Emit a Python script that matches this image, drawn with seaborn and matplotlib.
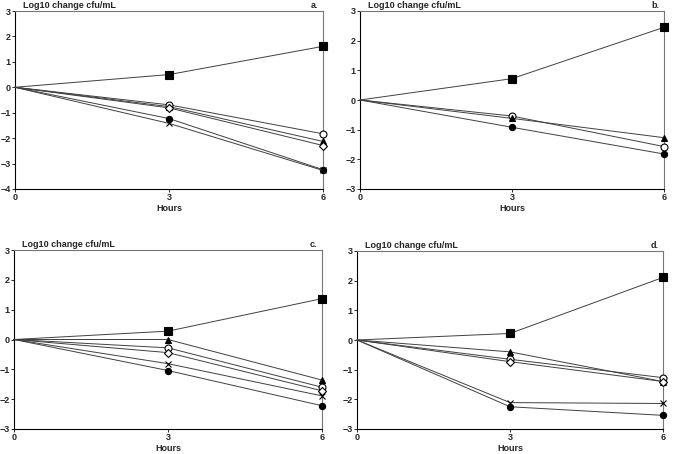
import numpy as np
import pandas as pd
import seaborn as sns
import matplotlib
matplotlib.use('Agg')
import matplotlib.pyplot as plt

hours = [0, 3, 6]

# log10 change in cfu/mL per panel, one list per marker series
a_square = [0, 0.50, 1.61]
a_open_circle = [0, -0.69, -1.83]
a_triangle = [0, -0.76, -2.13]
a_open_diamond = [0, -0.81, -2.29]
a_filled_circle = [0, -1.23, -3.24]
a_cross = [0, -1.42, -3.27]

b_square = [0, 0.72, 2.45]
b_open_circle = [0, -0.54, -1.57]
b_triangle = [0, -0.62, -1.27]
b_filled_circle = [0, -0.92, -1.82]

c_square = [0, 0.28, 1.37]
c_triangle = [0, 0.0, -1.36]
c_open_circle = [0, -0.28, -1.60]
c_open_diamond = [0, -0.44, -1.72]
c_cross = [0, -0.81, -1.89]
c_filled_circle = [0, -1.04, -2.22]

d_square = [0, 0.22, 2.11]
d_triangle = [0, -0.40, -1.40]
d_open_circle = [0, -0.65, -1.27]
d_open_diamond = [0, -0.73, -1.40]
d_cross = [0, -2.11, -2.14]
d_filled_circle = [0, -2.25, -2.54]

panel_labels = ['a.', 'b.', 'c.', 'd.']
y_limits = [(-4, 3), (-3, 3), (-3, 3), (-3, 3)]

# marker styles: (marker, facecolor, size)
styles = {
    'square': ('s', 'black', 5.5),
    'open_circle': ('o', 'white', 5),
    'triangle': ('^', 'black', 4.5),
    'open_diamond': ('D', 'white', 4),
    'cross': ('x', 'black', 4.5),
    'filled_circle': ('o', 'black', 4.5),
}

panels = [
    {'square': a_square, 'open_circle': a_open_circle, 'triangle': a_triangle,
     'open_diamond': a_open_diamond, 'filled_circle': a_filled_circle, 'cross': a_cross},
    {'square': b_square, 'open_circle': b_open_circle, 'triangle': b_triangle,
     'filled_circle': b_filled_circle},
    {'square': c_square, 'triangle': c_triangle, 'open_circle': c_open_circle,
     'open_diamond': c_open_diamond, 'cross': c_cross, 'filled_circle': c_filled_circle},
    {'square': d_square, 'triangle': d_triangle, 'open_circle': d_open_circle,
     'open_diamond': d_open_diamond, 'cross': d_cross, 'filled_circle': d_filled_circle},
]

sns.set_style('white')
plt.rcParams['font.family'] = ['Liberation Sans', 'DejaVu Sans']

fig = plt.figure(figsize=(6.75, 4.54), dpi=100)

W, H = 675, 454
# axes boxes in pixels: left, top, right, bottom
boxes = [(15, 11, 323, 189), (360, 11, 664, 189),
         (14, 250, 322, 429), (357, 251, 663, 429)]

for i, (series, box) in enumerate(zip(panels, boxes)):
    l, t, r, b = box
    ax = fig.add_axes([l / W, 1 - b / H, (r - l) / W, (b - t) / H])
    for name, vals in series.items():
        marker, face, size = styles[name]
        df = pd.DataFrame({'hours': hours, 'change': vals})
        sns.lineplot(data=df, x='hours', y='change', ax=ax, color='#404040',
                     linewidth=0.7, marker=marker, markersize=size,
                     markerfacecolor=face, markeredgecolor='black',
                     markeredgewidth=0.8, markevery=[1, 2], clip_on=False,
                     zorder=3)
    lo, hi = y_limits[i]
    ax.set_xlim(0, 6)
    ax.set_ylim(lo, hi)
    ax.set_xticks(hours)
    ax.set_yticks(range(lo, hi + 1))
    ax.tick_params(axis='both', length=2, width=0.7, pad=1, labelsize=6.5,
                   direction='out', left=True, bottom=True)
    for lab in ax.get_xticklabels() + ax.get_yticklabels():
        lab.set_fontweight('bold')
    ax.set_xlabel('Hours', fontsize=6.5, fontweight='bold', labelpad=1)
    ax.set_ylabel('')
    for side in ['left', 'bottom']:
        ax.spines[side].set_color('black')
        ax.spines[side].set_linewidth(0.8)
    for side in ['top', 'right']:
        ax.spines[side].set_color('#777777')
        ax.spines[side].set_linewidth(0.8)
    ax.text(0.025, 1.008, 'Log10 change cfu/mL', transform=ax.transAxes,
            fontsize=6.5, fontweight='bold', ha='left', va='bottom')
    ax.text(0.985, 1.008, panel_labels[i], transform=ax.transAxes,
            fontsize=6.5, fontweight='bold', ha='right', va='bottom')

fig.savefig('out.png', dpi=100)
